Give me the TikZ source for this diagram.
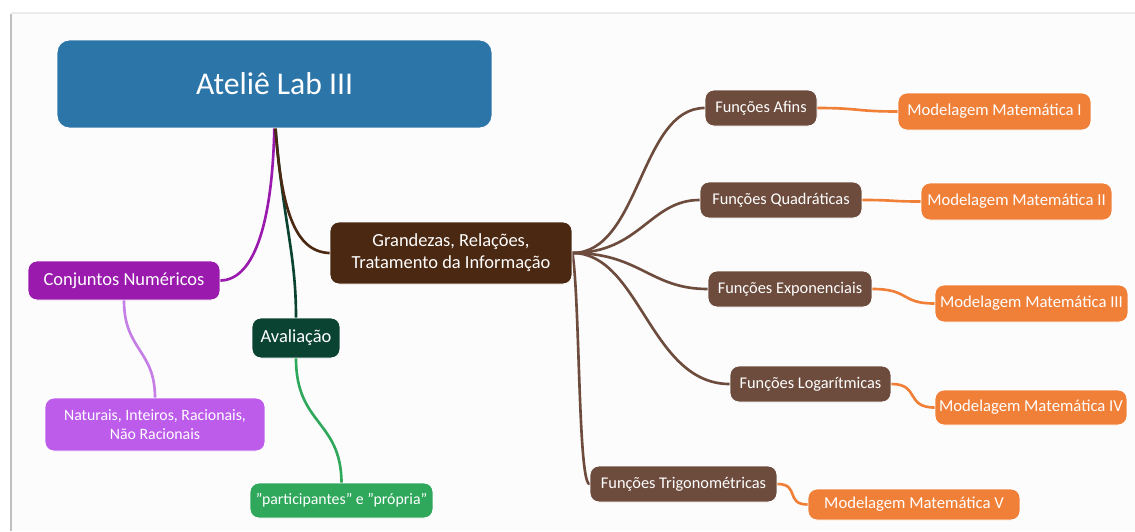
\documentclass[tikz,border=0pt]{standalone}
\usepackage{fontspec}
\setmainfont{Carlito}
\usetikzlibrary{backgrounds}
\definecolor{cRoot}{HTML}{2C75A8}
\definecolor{cGr}{HTML}{4B2812}
\definecolor{cCn}{HTML}{9A1AAE}
\definecolor{cAv}{HTML}{0B4332}
\definecolor{cNat}{HTML}{BD5BEB}
\definecolor{cNatL}{HTML}{C47EE6}
\definecolor{cPart}{HTML}{2FA85C}
\definecolor{cFn}{HTML}{6D4C3D}
\definecolor{cMod}{HTML}{F07F38}
\definecolor{cBg}{HTML}{FCFCFC}
\begin{document}
\begin{tikzpicture}[x=0.02cm,y=-0.02cm,
  box/.style={rounded corners=5pt, draw=white, line width=0.5pt, text=white, align=center, inner sep=0pt},
  fnbox/.style={box, fill=cFn, font=\fontsize{9.3}{10}\selectfont, minimum height=0.72cm},
  modbox/.style={box, fill=cMod, font=\fontsize{9.5}{10}\selectfont, minimum height=0.74cm},
  link/.style={line width=1.5pt, line cap=round}]
\useasboundingbox (0,0) rectangle (1135,531);

% nodes
\node[box, fill=cRoot, rounded corners=7pt, minimum width=8.7cm, minimum height=1.76cm, font=\fontsize{18}{20}\selectfont] (root) at (274.5,84) {Ateliê Lab III};
\node[box, fill=cGr, minimum width=4.84cm, minimum height=1.24cm, font=\fontsize{10.5}{12.5}\selectfont] (gr) at (451,253) {Grandezas, Relações,\\Tratamento da Informação};
\node[box, fill=cCn, minimum width=3.84cm, minimum height=0.78cm, font=\fontsize{10.5}{12}\selectfont] (cn) at (124,280.5) {Conjuntos Numéricos};
\node[box, fill=cAv, minimum width=1.76cm, minimum height=0.8cm, font=\fontsize{10.5}{12}\selectfont] (av) at (296,338) {Avaliação};
\node[box, fill=cNat, minimum width=4.4cm, minimum height=1.06cm, font=\fontsize{9}{10.5}\selectfont] (nat) at (155,424.5) {Naturais, Inteiros, Racionais,\\Não Racionais};
\node[box, fill=cPart, minimum width=3.66cm, minimum height=0.7cm, font=\fontsize{9}{10}\selectfont] (part) at (341.5,500.5) {\symbol{"22}participantes\symbol{"22} e \symbol{"22}própria\symbol{"22}};

\node[fnbox, minimum width=2.24cm] (fa) at (761,108) {Funções Afins};
\node[fnbox, minimum width=3.24cm] (fq) at (781,200) {Funções Quadráticas};
\node[fnbox, minimum width=3.28cm] (fe) at (790,289) {Funções Exponenciais};
\node[fnbox, minimum width=3.22cm] (fl) at (810.5,384) {Funções Logarítmicas};
\node[fnbox, minimum width=3.74cm] (ft) at (683.5,484) {Funções Trigonométricas};

\node[modbox, minimum width=3.86cm] (m1) at (994.5,111.5) {Modelagem Matemática I};
\node[modbox, minimum width=3.82cm] (m2) at (1016.5,201.5) {Modelagem Matemática II};
\node[modbox, minimum width=3.86cm] (m3) at (1031.5,303.5) {Modelagem Matemática III};
\node[modbox, minimum width=3.84cm, minimum height=0.7cm] (m4) at (1031,407.5) {Modelagem Matemática IV};
\node[modbox, minimum width=4.24cm, minimum height=0.62cm] (m5) at (914,504.5) {Modelagem Matemática V};

% connectors and background
\begin{scope}[on background layer]
\fill[white] (0,0) rectangle (1135,531);
\fill[cBg] (12,14) rectangle (1135,531);
\draw[black!25, line width=1pt] (11,14) -- (11,531);
\draw[black!8, line width=1pt] (11,13) -- (1135,13);
\draw[link, cCn] ([yshift=8pt]root.south) .. controls (274,220) and (255,280) .. (cn.east);
\draw[link, cAv] ([yshift=8pt]root.south) .. controls (282,220) and (296,250) .. (av.north);
\draw[link, cGr] ([yshift=8pt]root.south) .. controls (280,210) and (295,252) .. (gr.west);
\draw[link, cNatL] (cn.south) .. controls (124,350) and (155,350) .. (nat.north);
\draw[link, cPart] (av.south) .. controls (296,425) and (341,420) .. (part.north);
\draw[link, cFn] (gr.east) .. controls (640,253) and (640,108) .. (fa.west);
\draw[link, cFn] (gr.east) .. controls (640,253) and (650,200) .. (fq.west);
\draw[link, cFn] (gr.east) .. controls (640,253) and (650,289) .. (fe.west);
\draw[link, cFn] (gr.east) .. controls (640,253) and (650,384) .. (fl.west);
\draw[link, cFn] (gr.east) .. controls (580,300) and (578,484) .. (ft.west);
\draw[link, cMod] (fa.east) .. controls (860,108) and (855,111.5) .. (m1.west);
\draw[link, cMod] (fq.east) .. controls (895,200) and (890,201.5) .. (m2.west);
\draw[link, cMod] (fe.east) .. controls (910,289) and (900,303.5) .. (m3.west);
\draw[link, cMod] (fl.east) .. controls (920,384) and (905,407.5) .. (m4.west);
\draw[link, cMod] (ft.east) .. controls (800,484) and (785,504.5) .. (m5.west);
\end{scope}
\end{tikzpicture}
\end{document}
